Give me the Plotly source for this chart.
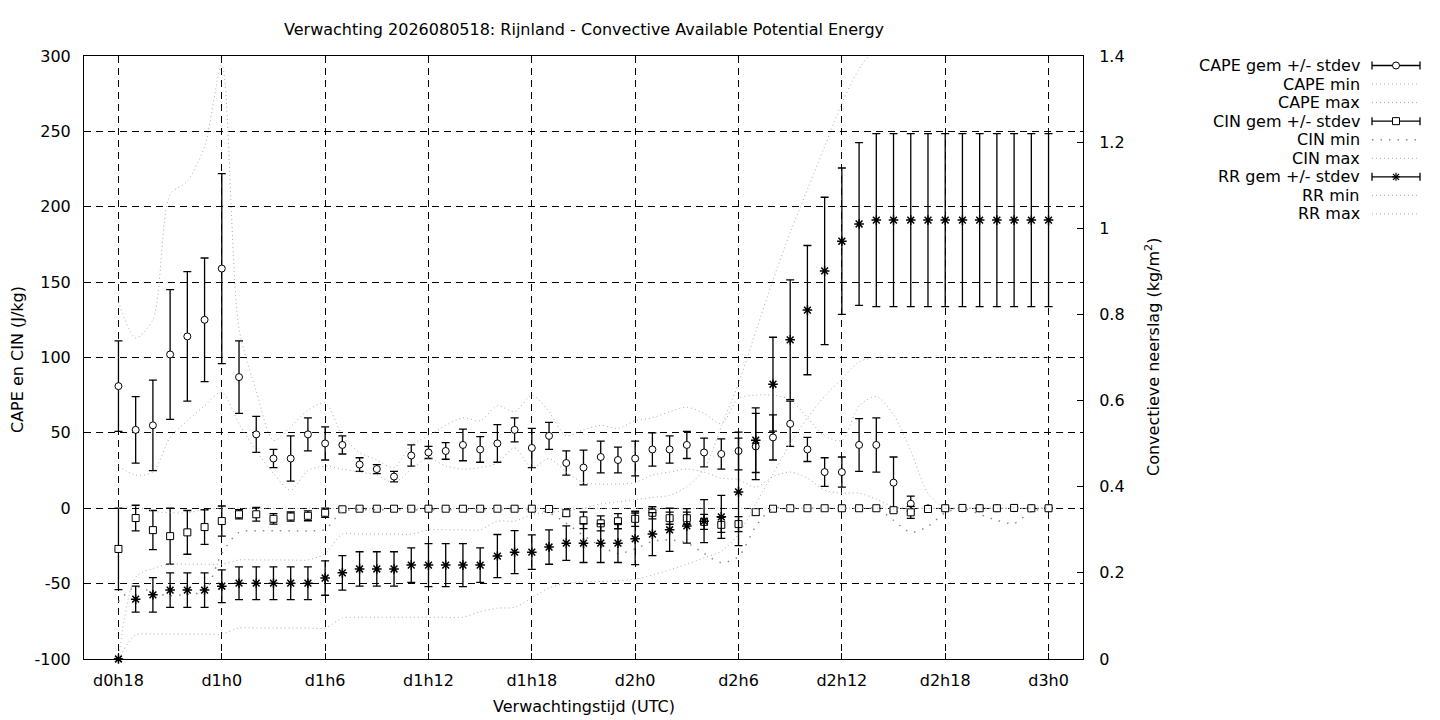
import plotly.graph_objects as go

# ---------------- data (hours since run start, hourly from d0h18 to d3h0) ----------------
hours = list(range(18, 73))
tick_hours = [18, 24, 30, 36, 42, 48, 54, 60, 66, 72]
tick_text = ["d0h18", "d1h0", "d1h6", "d1h12", "d1h18", "d2h0", "d2h6", "d2h12", "d2h18", "d3h0"]

cape_mean = [81, 52, 55, 102, 114, 125, 159, 87, 49, 33, 33, 49, 43, 42, 29, 26, 21, 35, 37, 38,
             42, 39, 43, 52, 40, 48, 30, 27, 34, 32, 33, 39, 39, 42, 37, 36, 38, 41, 47, 56,
             39, 24, 24, 42, 42, 17, 3, 0, 0, 0, 0, 0, 0, 0, 0]
cape_sd = [30, 22, 30, 43, 43, 41, 63, 24, 12, 6, 15, 11, 11, 6, 4.5, 3, 3.5, 7, 4, 5.5,
           10.5, 8.5, 12.5, 8, 13, 9, 8, 11.5, 10.5, 8.5, 11.5, 11, 9, 9, 9.5, 10, 12.5, 22, 15, 15,
           8, 9.5, 10, 17.5, 18, 17, 5, 0, 0, 0, 0, 0, 0, 0, 0]
cape_min = [28, 22, 24, 47, 58, 68, 77, 56, 38, 23, 12, 25, 28, 26, 24, 22, 17, 26, 33, 28,
            26, 27, 30, 40, 27, 33, 24, 17, 16, 16, 17, 22, 24, 26, 24, 20, 19, 14, 21, 24,
            20, 12, 10, 10, 6, 1, 0, 0, 0, 0, 0, 0, 0, 0, 0]
cape_max = [137, 113, 125, 208, 217, 240, 294, 119, 78, 45, 54, 65, 70, 48, 37, 32, 27, 42, 48, 55,
            60, 58, 68, 64, 75, 64, 48, 52, 55, 53, 58, 60, 64, 67, 63, 56, 73, 75, 75, 72,
            60, 48, 45, 68, 74, 62, 38, 10, 0, 0, 0, 0, 0, 0, 0]

cin_mean = [-27, -6.5, -14.5, -18.5, -16, -12.5, -8.5, -4, -4, -7, -5.5, -5, -3, -0.7,
            -0.3, -0.3, -0.3, -0.3, -0.3, -0.3, -0.3, -0.3, -0.3, -0.3, -0.3,
            -0.5, -3.3, -8, -10, -8.6, -7, -3, -6.6, -6.6, -9, -11, -10.5, -2.6, -0.3,
            0, 0, 0, 0, 0, 0, -1.3, -2.7, -0.5, 0, 0.2, 0, 0, 0.2, 0, 0]
cin_sd = [27, 8.5, 13, 18.5, 14.5, 11.5, 10, 3, 4.5, 3.5, 3, 3.3, 3, 1,
          0.5, 0.5, 0.5, 0.5, 0.5, 0.5, 0.5, 0.5, 0.5, 0.5, 0.5,
          1, 2, 5.5, 5, 5, 5, 4, 4, 4, 5, 5, 5, 2, 0.5,
          0, 0, 0, 0, 0, 0, 1, 4, 1, 0, 0, 0, 0, 0, 0, 0]
cin_min = [-62, -52, -56, -58, -57, -55, -30, -16, -15, -15, -15, -15, -14, -2,
           -1, -1, -1, -1, -1, -1, -1, -1, -1, -1, -1,
           -3, -10, -18, -25, -30, -27, -22, -21, -23, -30, -36, -32, -12, 0,
           0, 0, 0, 0, 0, 0, -8, -16, -12, -3, 0, -4, -8, -10, -2, 0]
cin_max = [0, 1, -2, -3, -3, -1, 0, 0, 0, 0, 0, 0, 0, 0,
           0, 0, 0, 0, 0, 0, 0, 0, 0, 0, 0,
           0, 0, 0, 0, 0, 0, 0, 0, 0, 0, 0, 0, 0, 0,
           0, 0, 0, 0, 0, 0, 0, 0, 0, 0, 0, 0, 0, 0, 0, 0]

rr_mean = [0, 0.139, 0.149, 0.160, 0.160, 0.160, 0.169, 0.176, 0.176, 0.176, 0.176, 0.176, 0.188,
           0.200, 0.209, 0.209, 0.209, 0.218, 0.218, 0.218, 0.218, 0.218, 0.239, 0.248, 0.248,
           0.260, 0.269, 0.269, 0.269, 0.269, 0.279, 0.290, 0.300, 0.309, 0.320, 0.330, 0.388,
           0.508, 0.638, 0.741, 0.810, 0.901, 0.970, 1.010,
           1.019, 1.019, 1.019, 1.019, 1.019, 1.019, 1.019, 1.019, 1.019, 1.019, 1.019]
rr_sd = [0, 0.03, 0.04, 0.04, 0.04, 0.04, 0.038, 0.038, 0.038, 0.038, 0.038, 0.038, 0.04,
         0.04, 0.04, 0.04, 0.04, 0.04, 0.05, 0.05, 0.05, 0.04, 0.05, 0.05, 0.04,
         0.04, 0.04, 0.045, 0.045, 0.045, 0.06, 0.05, 0.05, 0.04, 0.05, 0.05, 0.125,
         0.075, 0.109, 0.139, 0.150, 0.171, 0.170, 0.189,
         0.201, 0.201, 0.201, 0.201, 0.201, 0.201, 0.201, 0.201, 0.201, 0.201, 0.201]
rr_min = [0, 0.056, 0.058, 0.058, 0.058, 0.058, 0.058, 0.072, 0.072, 0.072, 0.072, 0.072, 0.072,
          0.095, 0.097, 0.097, 0.097, 0.097, 0.097, 0.097, 0.097,
          0.11, 0.118, 0.12, 0.142, 0.165, 0.176, 0.179, 0.18, 0.182, 0.185, 0.195, 0.207,
          0.22, 0.235, 0.25, 0.29, 0.36, 0.43, 0.50, 0.56, 0.61, 0.65, 0.69,
          0.70, 0.70, 0.70, 0.70, 0.70, 0.70, 0.70, 0.70, 0.70, 0.70, 0.70]
rr_max = [0, 0.19, 0.21, 0.22, 0.22, 0.22, 0.22, 0.23, 0.23, 0.23, 0.23, 0.23, 0.245,
          0.29, 0.29, 0.29, 0.29, 0.29, 0.30, 0.30, 0.30, 0.30, 0.32, 0.32, 0.335,
          0.34, 0.345, 0.35, 0.36, 0.365, 0.37, 0.375, 0.38, 0.40, 0.44, 0.54, 0.64,
          0.76, 0.88, 0.99, 1.09, 1.19, 1.29, 1.37, 1.42,
          1.45, 1.45, 1.45, 1.45, 1.45, 1.45, 1.45, 1.45, 1.45, 1.45]

left_ticks = [-100, -50, 0, 50, 100, 150, 200, 250, 300]
left_text = ["-100", "-50", "0", "50", "100", "150", "200", "250", "300"]
right_ticks = [0, 0.2, 0.4, 0.6, 0.8, 1.0, 1.2, 1.4]
right_text = ["0", "0.2", "0.4", "0.6", "0.8", "1", "1.2", "1.4"]

legend_labels = ["CAPE gem +/- stdev", "CAPE min", "CAPE max", "CIN gem +/- stdev", "CIN min",
                 "CIN max", "RR gem +/- stdev", "RR min", "RR max"]

# ---------------- styling ----------------
FONT = "DejaVu Sans"
FS = 16
LIGHT = "#acacac"
LIGHT_DASH = "1px,3px"
CIN_MIN_COL = "#8c8c8c"
CIN_MIN_DASH = "1.5px,7px"

fig = go.Figure()


def err(arr):
    return dict(type="data", array=arr, visible=True, color="black", thickness=1.3, width=4)


def minmax(y, color=LIGHT, dash=LIGHT_DASH, width=1, axis="y"):
    return go.Scatter(x=hours, y=y, mode="lines", yaxis=axis,
                      line=dict(color=color, dash=dash, width=width, shape="spline", smoothing=0.8),
                      hoverinfo="skip")


fig.add_trace(go.Scatter(x=hours, y=cape_mean, mode="markers", error_y=err(cape_sd),
                         marker=dict(symbol="circle", size=7, color="white",
                                     line=dict(color="black", width=1))))
fig.add_trace(minmax(cape_min))
fig.add_trace(minmax(cape_max))
fig.add_trace(go.Scatter(x=hours, y=cin_mean, mode="markers", error_y=err(cin_sd),
                         marker=dict(symbol="square", size=7, color="white",
                                     line=dict(color="black", width=1))))
fig.add_trace(minmax(cin_min, color=CIN_MIN_COL, dash=CIN_MIN_DASH, width=1.5))
fig.add_trace(minmax(cin_max))
fig.add_trace(go.Scatter(x=hours, y=rr_mean, mode="markers", yaxis="y2", error_y=err(rr_sd),
                         cliponaxis=False,
                         marker=dict(symbol="asterisk-open", size=8, color="black",
                                     line=dict(color="black", width=1.5))))
fig.add_trace(minmax(rr_min, axis="y2"))
fig.add_trace(minmax(rr_max, axis="y2"))

# ---------------- layout ----------------
L, R, T, B = 84, 1083, 56, 659


def px(p):
    return (p - L) / (R - L)


def py(p):
    return (B - p) / (B - T)


grid = dict(showgrid=True, gridcolor="black", gridwidth=1, griddash="7px,5px")

fig.update_layout(
    width=1440, height=720,
    margin=dict(l=L, r=1440 - R, t=T, b=720 - B, pad=0),
    paper_bgcolor="white", plot_bgcolor="white",
    showlegend=False,
    font=dict(family=FONT, size=FS, color="black"),
    xaxis=dict(range=[16, 74], tickvals=tick_hours, ticktext=tick_text, zeroline=False,
               showline=True, mirror=True, linecolor="black", linewidth=1,
               ticks="inside", ticklen=6, tickcolor="black", ticklabelstandoff=7, **grid),
    yaxis=dict(range=[-100, 300], tickvals=left_ticks, ticktext=left_text, zeroline=False,
               showline=True, linecolor="black", linewidth=1,
               ticks="inside", ticklen=6, tickcolor="black", ticklabelstandoff=9, **grid),
    yaxis2=dict(range=[0, 1.4], tickvals=right_ticks, ticktext=right_text, overlaying="y",
                side="right", showgrid=False, zeroline=False, showline=True, linecolor="black",
                linewidth=1, ticks="inside", ticklen=6, tickcolor="black", ticklabelstandoff=12),
)

annotations = [
    dict(text="Verwachting 2026080518: Rijnland - Convective Available Potential Energy",
         x=px(584), y=py(29), xref="paper", yref="paper", showarrow=False,
         xanchor="center", yanchor="middle", font=dict(size=FS)),
    dict(text="Verwachtingstijd (UTC)", x=px(584), y=py(706), xref="paper", yref="paper",
         showarrow=False, xanchor="center", yanchor="middle", font=dict(size=FS)),
    dict(text="CAPE en CIN (J/kg)", x=px(18), y=py(360), xref="paper", yref="paper",
         showarrow=False, textangle=-90, xanchor="center", yanchor="middle", font=dict(size=FS)),
    dict(text="Convectieve neerslag (kg/m<sup>2</sup>)", x=px(1153), y=py(357), xref="paper",
         yref="paper", showarrow=False, textangle=-90, xanchor="center", yanchor="middle",
         font=dict(size=FS)),
]

shapes = []
row_y0, row_dy = 65.5, 18.55
LX0, LX1, LXC = 1372, 1420, 1396
for i, lab in enumerate(legend_labels):
    yy = row_y0 + i * row_dy
    annotations.append(dict(text=lab, x=px(1362), y=py(yy), xref="paper", yref="paper",
                            showarrow=False, xanchor="right", yanchor="middle",
                            font=dict(size=FS)))
    if "gem" in lab:
        shapes.append(dict(type="line", xref="paper", yref="paper", x0=px(LX0), x1=px(LX1),
                           y0=py(yy), y1=py(yy), line=dict(color="black", width=1.3)))
        for xe in (LX0, LX1):
            shapes.append(dict(type="line", xref="paper", yref="paper", x0=px(xe), x1=px(xe),
                               y0=py(yy - 4), y1=py(yy + 4), line=dict(color="black", width=1.3)))
        if lab.startswith("CAPE"):
            shapes.append(dict(type="circle", xref="paper", yref="paper", x0=px(LXC - 3.5),
                               x1=px(LXC + 3.5), y0=py(yy - 3.5), y1=py(yy + 3.5),
                               fillcolor="white", line=dict(color="black", width=1)))
        elif lab.startswith("CIN"):
            shapes.append(dict(type="rect", xref="paper", yref="paper", x0=px(LXC - 3.5),
                               x1=px(LXC + 3.5), y0=py(yy - 3.5), y1=py(yy + 3.5),
                               fillcolor="white", line=dict(color="black", width=1)))
        else:
            for dx, dy in ((4, 0), (0, 4), (3, 3), (3, -3)):
                shapes.append(dict(type="line", xref="paper", yref="paper", x0=px(LXC - dx),
                                   x1=px(LXC + dx), y0=py(yy - dy), y1=py(yy + dy),
                                   line=dict(color="black", width=1.2)))
    else:
        if lab == "CIN min":
            col, dash, w = CIN_MIN_COL, CIN_MIN_DASH, 1.5
        else:
            col, dash, w = LIGHT, LIGHT_DASH, 1
        shapes.append(dict(type="line", xref="paper", yref="paper", x0=px(LX0), x1=px(LX1),
                           y0=py(yy), y1=py(yy), line=dict(color=col, width=w, dash=dash)))

fig.update_layout(annotations=annotations, shapes=shapes)

fig.write_html("out.html", config={"displayModeBar": False},
               post_script="document.body.style.margin='0';document.body.style.overflow='hidden';")
